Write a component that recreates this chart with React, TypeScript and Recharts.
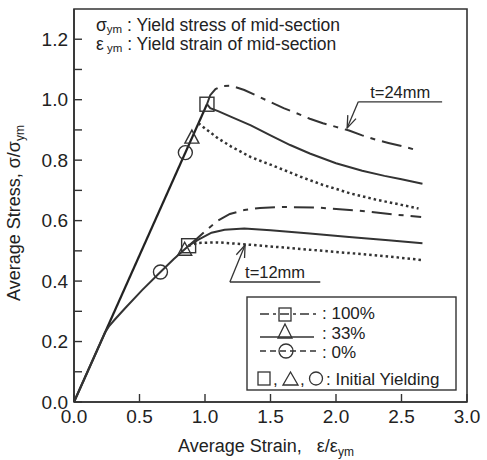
import React from "react";
import {
  ComposedChart,
  Line,
  Scatter,
  XAxis,
  YAxis,
  ReferenceArea,
  ReferenceLine,
} from "recharts";

type Pt = { x: number; y: number };

const FONT = "'Liberation Sans', Arial, Helvetica, sans-serif";
const INK = "#333";

const strainTicks = [0, 0.5, 1, 1.5, 2, 2.5, 3];
const stressTicks = [0, 0.1, 0.2, 0.3, 0.4, 0.5, 0.6, 0.7, 0.8, 0.9, 1.0, 1.1, 1.2];

// t = 24mm
const t24Elastic: Pt[] = [
  { x: 0, y: 0 },
  { x: 1.015, y: 0.985 },
];
const t24Full: Pt[] = [
  { x: 1.015, y: 0.985 }, { x: 1.04, y: 1.015 }, { x: 1.08, y: 1.035 }, { x: 1.13, y: 1.045 },
  { x: 1.2, y: 1.046 }, { x: 1.3, y: 1.032 }, { x: 1.4, y: 1.012 }, { x: 1.5, y: 0.992 },
  { x: 1.6, y: 0.972 }, { x: 1.7, y: 0.955 }, { x: 1.8, y: 0.937 }, { x: 1.9, y: 0.922 },
  { x: 2.0, y: 0.91 }, { x: 2.1, y: 0.898 }, { x: 2.2, y: 0.882 }, { x: 2.3, y: 0.868 },
  { x: 2.4, y: 0.857 }, { x: 2.5, y: 0.847 }, { x: 2.6, y: 0.835 },
];
const t24Third: Pt[] = [
  { x: 1.015, y: 0.985 }, { x: 1.04, y: 0.972 }, { x: 1.1, y: 0.962 }, { x: 1.2, y: 0.943 },
  { x: 1.35, y: 0.915 }, { x: 1.5, y: 0.882 }, { x: 1.65, y: 0.85 }, { x: 1.8, y: 0.822 },
  { x: 2.0, y: 0.79 }, { x: 2.2, y: 0.765 }, { x: 2.37, y: 0.748 }, { x: 2.5, y: 0.737 },
  { x: 2.66, y: 0.722 },
];
const t24Zero: Pt[] = [
  { x: 0.95, y: 0.922 }, { x: 1.0, y: 0.905 }, { x: 1.1, y: 0.872 }, { x: 1.2, y: 0.845 },
  { x: 1.35, y: 0.81 }, { x: 1.5, y: 0.785 }, { x: 1.6, y: 0.768 }, { x: 1.73, y: 0.745 },
  { x: 1.9, y: 0.718 }, { x: 2.0, y: 0.705 }, { x: 2.11, y: 0.69 }, { x: 2.3, y: 0.67 },
  { x: 2.5, y: 0.652 }, { x: 2.63, y: 0.64 },
];

// t = 12mm
const t12Base: Pt[] = [
  { x: 0, y: 0 }, { x: 0.237, y: 0.23 }, { x: 0.27, y: 0.252 }, { x: 0.31, y: 0.272 },
  { x: 0.39, y: 0.31 }, { x: 0.52, y: 0.37 }, { x: 0.66, y: 0.43 }, { x: 0.76, y: 0.472 },
  { x: 0.875, y: 0.517 },
];
const t12Full: Pt[] = [
  { x: 0.875, y: 0.517 }, { x: 0.95, y: 0.545 }, { x: 1.02, y: 0.572 }, { x: 1.1, y: 0.6 },
  { x: 1.19, y: 0.622 }, { x: 1.3, y: 0.635 }, { x: 1.42, y: 0.642 }, { x: 1.6, y: 0.645 },
  { x: 1.86, y: 0.643 }, { x: 2.2, y: 0.632 }, { x: 2.45, y: 0.62 }, { x: 2.65, y: 0.612 },
];
const t12Third: Pt[] = [
  { x: 0.875, y: 0.517 }, { x: 0.95, y: 0.537 }, { x: 1.05, y: 0.56 }, { x: 1.15, y: 0.57 },
  { x: 1.3, y: 0.574 }, { x: 1.5, y: 0.568 }, { x: 1.8, y: 0.557 }, { x: 2.1, y: 0.546 },
  { x: 2.4, y: 0.535 }, { x: 2.66, y: 0.525 },
];
const t12Zero: Pt[] = [
  { x: 0.875, y: 0.517 }, { x: 0.94, y: 0.526 }, { x: 1.1, y: 0.528 }, { x: 1.32, y: 0.521 },
  { x: 1.6, y: 0.511 }, { x: 1.9, y: 0.5 }, { x: 2.2, y: 0.489 }, { x: 2.45, y: 0.479 },
  { x: 2.65, y: 0.47 },
];

// initial yielding points
const yieldSquares: Pt[] = [{ x: 1.015, y: 0.985 }, { x: 0.875, y: 0.517 }];
const yieldTriangles: Pt[] = [{ x: 0.9, y: 0.873 }, { x: 0.845, y: 0.502 }];
const yieldCircles: Pt[] = [{ x: 0.85, y: 0.825 }, { x: 0.66, y: 0.43 }];

// annotation anchors (data coords)
const t24Arrow: Pt[] = [{ x: 2.17, y: 0.993 }, { x: 2.085, y: 0.906 }];
const t24Under: Pt[] = [{ x: 2.17, y: 0.993 }, { x: 2.81, y: 0.993 }];
const t12Arrow: Pt[] = [{ x: 1.19, y: 0.397 }, { x: 1.306, y: 0.519 }];
const t12Under: Pt[] = [{ x: 1.19, y: 0.397 }, { x: 1.88, y: 0.397 }];

const DASHDOT = "20 7 5 7";
const DOTTED = "2.5 3";

const SquareMark = (p: any) => (
  <rect x={p.cx - 7} y={p.cy - 7} width={14} height={14} fill="none" stroke={INK} strokeWidth={1.4} />
);
const TriMark = (p: any) => (
  <path d={`M${p.cx},${p.cy - 8} L${p.cx + 7},${p.cy + 5} L${p.cx - 7},${p.cy + 5} Z`} fill="none" stroke={INK} strokeWidth={1.4} />
);
const CircleMark = (p: any) => (
  <circle cx={p.cx} cy={p.cy} r={7} fill="none" stroke={INK} strokeWidth={1.4} />
);

const arrowShape = (p: any) => {
  const { x1, y1, x2, y2 } = p;
  const a = Math.atan2(y2 - y1, x2 - x1);
  const L = 13;
  const s = 0.35;
  const ax = x2 - L * Math.cos(a - s);
  const ay = y2 - L * Math.sin(a - s);
  const bx = x2 - L * Math.cos(a + s);
  const by = y2 - L * Math.sin(a + s);
  return (
    <g>
      <line x1={x1} y1={y1} x2={x2} y2={y2} stroke={INK} strokeWidth={1.3} />
      <polyline points={`${ax},${ay} ${x2},${y2} ${bx},${by}`} fill="none" stroke={INK} strokeWidth={1.3} />
    </g>
  );
};

const underShape = (text: string) => (p: any) => (
  <g>
    <line x1={p.x1} y1={p.y1} x2={p.x2} y2={p.y2} stroke={INK} strokeWidth={1.3} />
    <text x={(p.x1 + p.x2) / 2} y={p.y1 - 4} textAnchor="middle" fontSize={16.5} fontFamily={FONT} fill="#222">
      {text}
    </text>
  </g>
);

const YTitle = () => (
  <text x={20} y={213} transform="rotate(-90 20 213)" textAnchor="middle" fontSize={18} fontFamily={FONT} fill="#222">
    Average Stress,  σ/σ<tspan fontSize={12} dy={4}>ym</tspan>
  </text>
);

const XTitle = () => (
  <text x={266} y={452} textAnchor="middle" fontSize={18} fontFamily={FONT} fill="#222">
    Average Strain,{"\u00a0\u00a0\u00a0"}ε/ε<tspan fontSize={12} dy={4}>ym</tspan>
  </text>
);

const fmtStress = (v: number) => (Math.round(v * 10) % 2 === 0 ? v.toFixed(1) : "");

export default function App() {
  return (
    <div style={{ position: "absolute", left: 0, top: 0, width: 487, height: 460, background: "#fff" }}>
      <ComposedChart width={487} height={460} margin={{ top: 9, right: 20, left: 0, bottom: 0 }}>
        <XAxis
          dataKey="x"
          type="number"
          domain={[0, 3]}
          ticks={strainTicks}
          interval={0}
          tickFormatter={(v) => Number(v).toFixed(1)}
          height={58}
          tickSize={-8}
          tickMargin={16}
          axisLine={{ stroke: INK, strokeWidth: 1.6 }}
          tickLine={{ stroke: INK, strokeWidth: 1.4 }}
          tick={{ fontSize: 19, fontFamily: FONT, fill: "#222" }}
          label={{ content: XTitle }}
        />
        <YAxis
          dataKey="y"
          type="number"
          domain={[0, 1.3]}
          ticks={stressTicks}
          interval={0}
          tickFormatter={fmtStress}
          width={74}
          tickSize={-8}
          tickMargin={14}
          axisLine={{ stroke: INK, strokeWidth: 1.6 }}
          tickLine={{ stroke: INK, strokeWidth: 1.4 }}
          tick={{ fontSize: 19, fontFamily: FONT, fill: "#222" }}
          label={{ content: YTitle }}
        />
        <ReferenceArea x1={0} x2={3} y1={0} y2={1.3} fill="none" stroke={INK} strokeWidth={1.6} />

        <Line data={t24Elastic} dataKey="y" type="linear" stroke="#222" strokeWidth={2.2} dot={false} isAnimationActive={false} />
        <Line data={t24Full} dataKey="y" type="linear" stroke={INK} strokeWidth={2} strokeDasharray={DASHDOT} dot={false} isAnimationActive={false} />
        <Line data={t24Third} dataKey="y" type="linear" stroke={INK} strokeWidth={2} dot={false} isAnimationActive={false} />
        <Line data={t24Zero} dataKey="y" type="linear" stroke={INK} strokeWidth={2.5} strokeDasharray={DOTTED} dot={false} isAnimationActive={false} />

        <Line data={t12Base} dataKey="y" type="linear" stroke={INK} strokeWidth={2} dot={false} isAnimationActive={false} />
        <Line data={t12Full} dataKey="y" type="linear" stroke={INK} strokeWidth={2} strokeDasharray={DASHDOT} dot={false} isAnimationActive={false} />
        <Line data={t12Third} dataKey="y" type="linear" stroke={INK} strokeWidth={2} dot={false} isAnimationActive={false} />
        <Line data={t12Zero} dataKey="y" type="linear" stroke={INK} strokeWidth={2.5} strokeDasharray={DOTTED} dot={false} isAnimationActive={false} />

        <Scatter data={yieldSquares} dataKey="y" shape={SquareMark} isAnimationActive={false} />
        <Scatter data={yieldTriangles} dataKey="y" shape={TriMark} isAnimationActive={false} />
        <Scatter data={yieldCircles} dataKey="y" shape={CircleMark} isAnimationActive={false} />

        <ReferenceLine segment={t24Arrow} shape={arrowShape} />
        <ReferenceLine segment={t24Under} shape={underShape("t=24mm")} />
        <ReferenceLine segment={t12Arrow} shape={arrowShape} />
        <ReferenceLine segment={t12Under} shape={underShape("t=12mm")} />

        {/* definitions */}
        <g fontFamily={FONT} fill="#222" fontSize={17.5}>
          <text x={96} y={31}>
            σ<tspan fontSize={11.5} dy={2}>ym</tspan>
            <tspan dy={-2}> : Yield stress of mid-section</tspan>
          </text>
          <text x={96} y={50}>
            ε<tspan fontSize={11.5} dy={2}> ym</tspan>
            <tspan dy={-2}> : Yield strain of mid-section</tspan>
          </text>
        </g>

        {/* legend box */}
        <g fontFamily={FONT} fill="#222" fontSize={17}>
          <rect x={247} y={297} width={209} height={93} fill="#fff" stroke={INK} strokeWidth={1.4} />
          <line x1={260} y1={314} x2={318} y2={314} stroke={INK} strokeWidth={1.6} strokeDasharray="9 4 3 4" />
          <rect x={279} y={308} width={12} height={13} fill="none" stroke={INK} strokeWidth={1.3} />
          <text x={322} y={319}>: 100%</text>
          <line x1={260} y1={337} x2={314} y2={337} stroke={INK} strokeWidth={1.6} />
          <path d="M285,324 L292,338 L278,338 Z" fill="none" stroke={INK} strokeWidth={1.3} />
          <text x={322} y={339}>: 33%</text>
          <line x1={260} y1={351} x2={318} y2={351} stroke={INK} strokeWidth={1.6} strokeDasharray="6 4" />
          <circle cx={286} cy={351} r={7} fill="none" stroke={INK} strokeWidth={1.3} />
          <text x={322} y={358}>: 0%</text>
          <rect x={258} y={372} width={12} height={13} fill="none" stroke={INK} strokeWidth={1.3} />
          <text x={273} y={385}>,</text>
          <path d="M290.5,372 L298,385 L283,385 Z" fill="none" stroke={INK} strokeWidth={1.3} />
          <text x={300} y={385}>,</text>
          <circle cx={316} cy={378.5} r={6.5} fill="none" stroke={INK} strokeWidth={1.3} />
          <text x={326} y={385}>: Initial Yielding</text>
        </g>
      </ComposedChart>
    </div>
  );
}
